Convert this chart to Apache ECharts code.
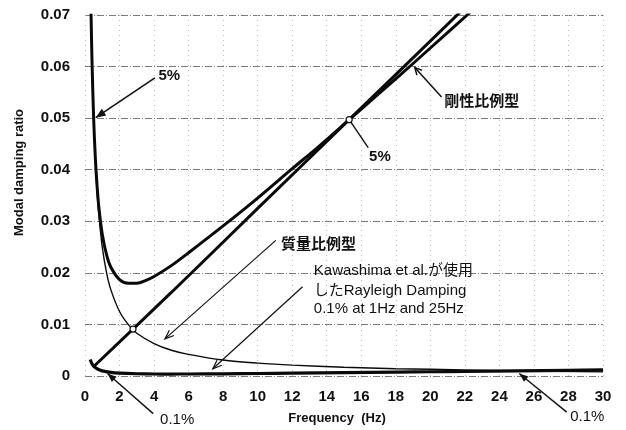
<!DOCTYPE html>
<html>
<head>
<meta charset="utf-8">
<script src="https://cdn.jsdelivr.net/npm/echarts@6/dist/echarts.min.js"></script>
<style>
  html, body { margin: 0; padding: 0; background: #fff; }
  #chart { width: 626px; height: 430px; }
</style>
</head>
<body>
<div id="chart"></div>
<script>
// Frequency axis ticks (Hz) and damping-ratio ticks
const xTicks = [0, 2, 4, 6, 8, 10, 12, 14, 16, 18, 20, 22, 24, 26, 28, 30];
const yTicks = [0, 0.01, 0.02, 0.03, 0.04, 0.05, 0.06, 0.07];

// Rayleigh damping, 5% at about 0.5 Hz and 15 Hz
const rayleighFreq = [0.35, 0.4, 0.5, 0.6, 0.7, 0.8, 1, 1.25, 1.5, 2, 2.5, 3, 3.5, 4, 5, 6, 8, 10, 12, 13.5, 15.3, 17, 18, 20, 22.3];
const rayleighDamp = [0.0703, 0.0618, 0.0500, 0.0422, 0.0368, 0.0328, 0.0275, 0.0235, 0.0211, 0.0187, 0.0180, 0.0180, 0.0185, 0.0193, 0.0214, 0.0239, 0.0291, 0.0345, 0.0402, 0.0444, 0.0497, 0.0547, 0.0576, 0.0636, 0.0705];

// Stiffness-proportional damping (剛性比例型)
const stiffFreq = [0.46, 5, 10, 15.3, 21.8];
const stiffDamp = [0.0017, 0.0162, 0.0325, 0.0497, 0.0708];

// Mass-proportional damping (質量比例型)
const massFreq = [0.35, 0.4, 0.5, 0.6, 0.7, 0.8, 1, 1.25, 1.5, 2, 2.5, 3, 4, 5, 6, 8, 10, 12, 15, 18, 20, 25, 30];
const massDamp = [0.0714, 0.0625, 0.0500, 0.0417, 0.0357, 0.0313, 0.0250, 0.0200, 0.0167, 0.0125, 0.0100, 0.0083, 0.0063, 0.0050, 0.0042, 0.0031, 0.0025, 0.0021, 0.0017, 0.0014, 0.0013, 0.0010, 0.0008];

// Kawashima et al. Rayleigh damping, 0.1% at 1 Hz and 25 Hz
const kawaFreq = [0.3, 0.4, 0.5, 0.7, 1, 1.5, 2, 3, 4, 5, 6, 8, 10, 12, 15, 18, 20, 22, 25, 28, 30];
const kawaDamp = [0.0032, 0.0024, 0.0019, 0.0014, 0.0010, 0.0007, 0.00056, 0.00044, 0.00039, 0.00038, 0.00039, 0.00043, 0.00048, 0.00054, 0.00064, 0.00075, 0.00082, 0.00089, 0.0010, 0.00111, 0.00119];

const zip = (xs, ys) => xs.map((x, i) => [x, ys[i]]);

const FONT = "'Liberation Sans', 'Noto Sans CJK JP', sans-serif";
const JP_FONT = "'Noto Sans CJK JP', 'Liberation Sans', sans-serif";

const chart = echarts.init(document.getElementById('chart'), null, { renderer: 'canvas' });

const lineSeries = (name, data, width) => ({
  name, type: 'line', data, showSymbol: false, smooth: 0.3, clip: true,
  lineStyle: { color: '#0a0a0a', width },
  silent: true, animation: false, z: 3
});

chart.setOption({
  backgroundColor: '#fff',
  animation: false,
  grid: { left: 85, right: 23, top: 15, bottom: 53 },
  xAxis: {
    type: 'value', min: xTicks[0], max: xTicks[xTicks.length - 1], interval: 2,
    name: 'Frequency  (Hz)', nameLocation: 'middle', nameGap: 36,
    nameTextStyle: { fontFamily: FONT, fontWeight: 'bold', fontSize: 13, color: '#111', padding: [0, 14, 0, 0] },
    axisLine: { show: false },
    axisTick: { show: false },
    axisLabel: { fontFamily: FONT, fontWeight: 'bold', fontSize: 15, color: '#111', margin: 13 },
    splitLine: { show: true, lineStyle: { color: '#bdbdbd', width: 1, type: [1, 4] } }
  },
  yAxis: {
    type: 'value', min: yTicks[0], max: yTicks[yTicks.length - 1], interval: 0.01,
    name: 'Modal damping ratio', nameLocation: 'middle', nameGap: 59,
    nameTextStyle: { fontFamily: FONT, fontWeight: 'bold', fontSize: 13, color: '#111', padding: [0, 0, 0, 46] },
    axisLine: { show: false },
    axisTick: { show: false },
    axisLabel: { fontFamily: FONT, fontWeight: 'bold', fontSize: 15, color: '#111', margin: 15 },
    splitLine: { show: true, lineStyle: { color: '#7a7a7a', width: 1, type: [7, 2, 1, 2] } }
  },
  series: [
    lineSeries('Rayleigh 5%', zip(rayleighFreq, rayleighDamp), 3),
    lineSeries('剛性比例型', zip(stiffFreq, stiffDamp), 3),
    lineSeries('質量比例型', zip(massFreq, massDamp), 1.4),
    lineSeries('Kawashima', zip(kawaFreq, kawaDamp), 3.2)
  ]
});

// Annotations placed in data coordinates and converted through the axes
const px = (p) => chart.convertToPixel({ gridIndex: 0 }, p);

function arrow(from, to, opts) {
  const a = px(from), b = px(to);
  const els = [{
    type: 'line', silent: true, z: 10,
    shape: { x1: a[0], y1: a[1], x2: b[0], y2: b[1] },
    style: { stroke: '#111', lineWidth: opts.width || 1.5 }
  }];
  if (opts.head) {
    const dx = b[0] - a[0], dy = b[1] - a[1];
    const len = Math.hypot(dx, dy);
    const ux = dx / len, uy = dy / len;
    const L = opts.headLen || 9, W = opts.headW || 4;
    const bx = b[0] - ux * L, by = b[1] - uy * L;
    const pts = [[bx - uy * W, by + ux * W], [b[0], b[1]], [bx + uy * W, by - ux * W]];
    if (opts.head === 'fill') {
      els.push({ type: 'polygon', silent: true, z: 10, shape: { points: pts }, style: { fill: '#111' } });
    } else {
      els.push({ type: 'polyline', silent: true, z: 10, shape: { points: pts }, style: { stroke: '#111', lineWidth: opts.width || 1.5, fill: null } });
    }
  }
  return els;
}

function label(text, at, font) {
  const p = px(at);
  return {
    type: 'text', silent: true, z: 11,
    x: p[0], y: p[1],
    style: { text, font, fill: '#111', align: 'left', verticalAlign: 'middle', textAlign: 'left', textVerticalAlign: 'middle' }
  };
}

function ring(at) {
  const p = px(at);
  return { type: 'circle', silent: true, z: 12, shape: { cx: p[0], cy: p[1], r: 3 }, style: { fill: '#fff', stroke: '#111', lineWidth: 1.2 } };
}

const boldFont = 'bold 15px ' + FONT;
const jpFont = 'bold 15px ' + JP_FONT;
const plainFont = '15px ' + FONT;

const graphics = [].concat(
  // 5% point on the low-frequency side
  arrow([4.05, 0.0578], [0.62, 0.0501], { head: 'fill', width: 1.6, headLen: 10, headW: 4 }),
  label('5%', [4.25, 0.0582], boldFont),
  // 5% point on the high-frequency side
  arrow([15.3, 0.0497], [16.4, 0.0443], { width: 1.4 }),
  ring([15.3, 0.0497]),
  label('5%', [16.45, 0.0424], boldFont),
  // stiffness-proportional label
  arrow([20.65, 0.0541], [19.1, 0.0598], { head: 'open', width: 1.5, headLen: 7, headW: 3.5 }),
  label('剛性比例型', [20.8, 0.0535], jpFont),
  // mass-proportional label
  arrow([11.05, 0.0263], [4.63, 0.0072], { head: 'open', width: 1.2, headLen: 9, headW: 3.5 }),
  label('質量比例型', [11.35, 0.0258], jpFont),
  ring([2.78, 0.0091]),
  // Kawashima et al. Rayleigh damping label
  arrow([12.6, 0.0173], [7.4, 0.0014], { head: 'open', width: 1.2, headLen: 9, headW: 3.5 }),
  label('Kawashima et al.が使用', [13.25, 0.0203], '15px ' + FONT + ", 'Noto Sans CJK JP'"),
  label('したRayleigh Damping', [13.25, 0.0166], '15px ' + FONT + ", 'Noto Sans CJK JP'"),
  label('0.1% at 1Hz and 25Hz', [13.25, 0.0130], plainFont),
  // 0.1% points at 1 Hz and 25 Hz
  arrow([3.95, -0.0073], [1.3, 0.0005], { head: 'fill', width: 1.4, headLen: 9, headW: 3.5 }),
  label('0.1%', [4.35, -0.0085], plainFont),
  arrow([27.9, -0.0070], [25.15, 0.0005], { head: 'fill', width: 1.4, headLen: 9, headW: 3.5 }),
  label('0.1%', [28.1, -0.0079], plainFont)
);

chart.setOption({ graphic: graphics });
</script>
</body>
</html>
